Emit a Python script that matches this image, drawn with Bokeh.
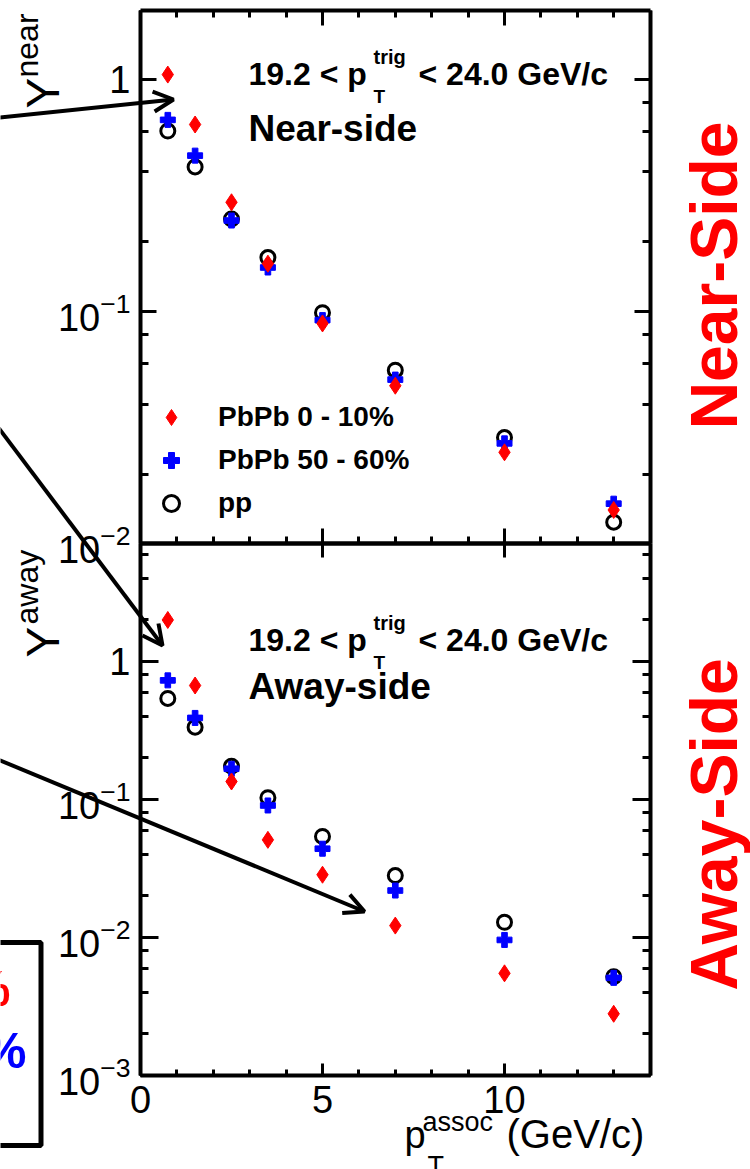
import math
from bokeh.plotting import figure
from bokeh.models import (Range1d, LinearScale, LogScale, LogAxis, LinearAxis, LogTicker,
                          SingleIntervalTicker, LogTickFormatter, CustomJSTickFormatter,
                          Label, Arrow, OpenHead, BoxAnnotation, Legend, LegendItem)
from bokeh.embed import file_html
from bokeh.resources import INLINE

# ---------------- data ----------------
pt_assoc = [0.75, 1.5, 2.5, 3.5, 5.0, 7.0, 10.0, 13.0]

near_pbpb_0_10 = [1.05, 0.64, 0.296, 0.161, 0.089, 0.048, 0.0248, 0.0140]
near_pbpb_50_60 = [0.67, 0.47, 0.247, 0.155, 0.092, 0.051, 0.0271, 0.0149]
near_pp = [0.60, 0.42, 0.251, 0.171, 0.099, 0.056, 0.0287, 0.0124]

away_pbpb_0_10 = [2.0, 0.67, 0.135, 0.051, 0.0285, 0.0122, 0.0055, 0.0028]
away_pbpb_50_60 = [0.73, 0.39, 0.167, 0.0905, 0.044, 0.0219, 0.0096, 0.0051]
away_pp = [0.54, 0.334, 0.174, 0.103, 0.054, 0.0281, 0.0129, 0.0052]

series_labels = ["PbPb 0 - 10%", "PbPb 50 - 60%", "pp"]
x_limits = (0, 14)
near_limits = (0.01, 1.98)
away_limits = (0.001, 7.2)

# ---------------- layout (pixels) ----------------
W, H = 750, 1169
X0, XU = 140.0, 36.4            # pixel of pT=0, pixels per GeV/c
NEAR_ONE, NEAR_DEC = 79.0, 232.2  # pixel row of Y=1, pixels per decade (top panel)
AWAY_ONE, AWAY_DEC = 661.0, 138.0  # same for bottom panel
FONT = "Liberation Sans"
SHIFT_H, SHIFT_V = 0.33, 0.37   # label anchor correction (fraction of font size)

p = figure(width=W, height=H, output_backend="svg", toolbar_location=None,
           x_range=Range1d(0, W), y_range=Range1d(0, H),
           x_axis_type=None, y_axis_type=None, min_border=0,
           outline_line_color=None, background_fill_color="white",
           border_fill_color="white")

p.extra_x_ranges = {"pt": Range1d(-X0 / XU, (W - X0) / XU)}
p.extra_x_scales = {"pt": LinearScale()}
p.extra_y_ranges = {
    "near": Range1d(10 ** ((NEAR_ONE - H) / NEAR_DEC), 10 ** (NEAR_ONE / NEAR_DEC)),
    "away": Range1d(10 ** ((AWAY_ONE - H) / AWAY_DEC), 10 ** (AWAY_ONE / AWAY_DEC)),
}
p.extra_y_scales = {"near": LogScale(), "away": LogScale()}

blank = CustomJSTickFormatter(code="return ''")


def style_axis(ax, maj_in, min_in, labels):
    ax.axis_line_width = 4
    ax.axis_line_color = "black"
    ax.major_tick_in = maj_in
    ax.major_tick_out = 0
    ax.minor_tick_in = min_in
    ax.minor_tick_out = 0
    ax.major_tick_line_width = 3
    ax.minor_tick_line_width = 3
    ax.major_label_text_font = FONT
    ax.major_label_text_font_size = "38px"
    ax.major_label_text_color = "black"
    ax.major_label_standoff = 10
    if not labels:
        ax.formatter = blank
        ax.major_label_text_font_size = "0px"
        ax.major_label_standoff = 0


def panel_axes(rng, ylim, ymaj, ymin, xmaj_top, xmin_top, xmaj_bot, xmin_bot, xlabels):
    left = LogAxis(x_range_name="pt", y_range_name=rng, fixed_location=x_limits[0],
                   bounds=ylim, ticker=LogTicker(), formatter=LogTickFormatter(min_exponent=1))
    style_axis(left, ymaj, ymin, True)
    p.add_layout(left, "left")
    right = LogAxis(x_range_name="pt", y_range_name=rng, fixed_location=x_limits[1],
                    bounds=ylim, ticker=LogTicker())
    style_axis(right, ymaj, ymin, False)
    p.add_layout(right, "right")
    top = LinearAxis(x_range_name="pt", y_range_name=rng, fixed_location=ylim[1],
                     bounds=x_limits, ticker=SingleIntervalTicker(interval=5, num_minor_ticks=5))
    style_axis(top, xmaj_top, xmin_top, False)
    p.add_layout(top, "above")
    bot = LinearAxis(x_range_name="pt", y_range_name=rng, fixed_location=ylim[0],
                     bounds=x_limits, ticker=SingleIntervalTicker(interval=5, num_minor_ticks=5))
    style_axis(bot, xmaj_bot, xmin_bot, xlabels)
    p.add_layout(bot, "below")


panel_axes("near", near_limits, 16, 8, 15, 7, 15, 7, False)
panel_axes("away", away_limits, 18, 8, 14, 0, 12, 6, True)

# ---------------- data markers ----------------
renderers = {}
for rng, pp, per, cen in (("near", near_pp, near_pbpb_50_60, near_pbpb_0_10),
                          ("away", away_pp, away_pbpb_50_60, away_pbpb_0_10)):
    r_pp = p.scatter(pt_assoc, pp, marker="circle", size=14, fill_color=None,
                     line_color="black", line_width=3, x_range_name="pt", y_range_name=rng)
    r_per = p.scatter(pt_assoc, per, marker="plus", size=15, fill_color="#0000ff",
                      line_color="#0000ff", line_width=1, x_range_name="pt", y_range_name=rng)
    r_cen = p.scatter(pt_assoc, cen, marker="diamond", size=17, fill_color="#ff0000",
                      line_color="#ff0000", line_width=1, x_range_name="pt", y_range_name=rng)
    renderers[rng] = (r_cen, r_per, r_pp)

legend = Legend(items=[LegendItem(label=series_labels[i], renderers=[renderers["near"][i]])
                       for i in range(3)],
                location=(151, H - 523), orientation="vertical",
                padding=0, margin=0, spacing=3,
                glyph_width=40, glyph_height=40, label_height=40, label_standoff=27,
                label_text_font=FONT, label_text_font_style="bold",
                label_text_font_size="28px", label_text_color="black",
                border_line_color=None, background_fill_alpha=0)
p.add_layout(legend)


# ---------------- texts ----------------
def lab(text, x, y, size, bold=False, color="black", align="left", vertical=False):
    # (x, y): start (or centre) of the text on its baseline, pixels from top-left
    if vertical:
        x = x - SHIFT_V * size
    else:
        y = y - SHIFT_H * size
    p.add_layout(Label(x=x, y=H - y, text=text, text_font=FONT,
                       text_font_size=f"{size}px",
                       text_font_style="bold" if bold else "normal",
                       text_color=color, text_align=align,
                       text_baseline="alphabetic",
                       angle=math.pi / 2 if vertical else 0.0))


for base, name, dy in ((84, "Near-side", 140), (650, "Away-side", 698)):
    lab("19.2 < p", 248, base, 32, bold=True)
    lab("T", 373, base + 18, 19, bold=True)
    lab("trig", 373, base - 21, 20, bold=True)
    lab("< 24.0 GeV/c", 418, base, 32, bold=True)
    lab(name, 248, dy, 37, bold=True)

# y-axis titles
lab("Y", 60, 108, 46, vertical=True)
lab("near", 38, 77, 32, vertical=True)
lab("Y", 60, 657, 46, vertical=True)
lab("away", 38, 624, 32, vertical=True)

# x-axis title
lab("p", 404, 1147, 38)
lab("T", 427, 1174, 27)
lab("assoc", 422, 1130, 27)
lab("(GeV/c)", 506, 1147, 40)

# side titles
lab("Near-Side", 738, 275, 66, bold=True, color="#ff0000", align="center", vertical=True)
lab("Away-Side", 738, 824, 66, bold=True, color="#ff0000", align="center", vertical=True)

# boxed legend cut by the page edge
p.add_layout(BoxAnnotation(left=-10, right=40.5, top=H - 942, bottom=H - 1145,
                           fill_color=None, fill_alpha=0, line_color="black",
                           line_alpha=1, line_width=5))
lab("PbPb 0-10%", 10, 1005, 50, bold=True, color="#ff0000", align="right")
lab("PbPb 50-60%", 26, 1067, 50, bold=True, color="#0000ff", align="right")

# arrows
for xs, ys, xe, ye in ((-5, 117.5, 173, 99), (-5, 423.3, 162, 645), (-5, 758, 364, 911)):
    p.add_layout(Arrow(x_start=xs, y_start=H - ys, x_end=xe, y_end=H - ye,
                       line_width=4, line_color="black",
                       end=OpenHead(size=20, line_width=4, line_color="black")))

open("out.html", "w").write(file_html(p, INLINE, "Per-trigger yields"))
